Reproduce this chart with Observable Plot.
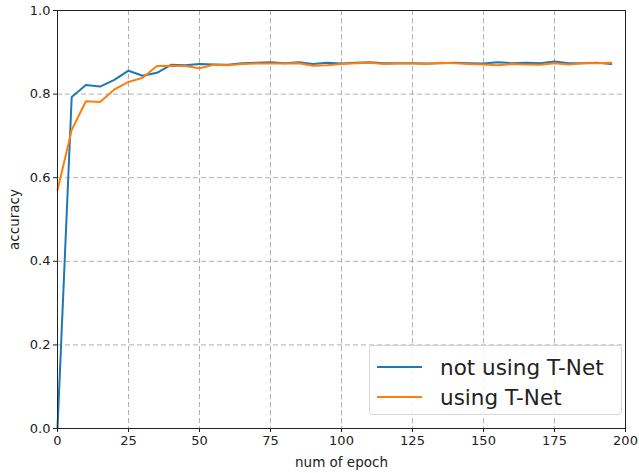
<!DOCTYPE html>
<html><head><meta charset="utf-8">
<script src="https://cdn.jsdelivr.net/npm/d3@7"></script>
<script src="https://cdn.jsdelivr.net/npm/@observablehq/plot@0.6"></script>
<style>
body{margin:0;background:#fff;font-family:"DejaVu Sans",sans-serif;}
#wrap{position:relative;width:639px;height:473px;}
#legend{position:absolute;left:369px;top:345px;width:253px;height:70px;border:1px solid #d6d6d6;border-radius:4px;background:rgba(255,255,255,0.85);box-sizing:border-box;font-size:21.5px;color:#222;}
.li{position:absolute;left:7px;height:30px;display:flex;align-items:center;white-space:nowrap;}
.li span.sw{display:inline-block;width:45px;height:0;border-top:2px solid;margin-right:18px;}
</style></head>
<body><div id="wrap"></div>
<script>
const epochs = [0,5,10,15,20,25,30,35,40,45,50,55,60,65,70,75,80,85,90,95,100,105,110,115,120,125,130,135,140,145,150,155,160,165,170,175,180,185,190,195];
const notUsingTNet = [0.0,0.793,0.822,0.818,0.834,0.856,0.844,0.851,0.870,0.869,0.872,0.871,0.870,0.874,0.875,0.876,0.874,0.876,0.872,0.875,0.873,0.875,0.876,0.874,0.874,0.874,0.873,0.874,0.875,0.874,0.873,0.876,0.874,0.875,0.874,0.878,0.874,0.874,0.875,0.872];
const usingTNet = [0.57,0.714,0.783,0.781,0.811,0.829,0.839,0.867,0.868,0.867,0.862,0.870,0.869,0.872,0.873,0.873,0.873,0.874,0.868,0.869,0.872,0.874,0.875,0.872,0.873,0.873,0.872,0.875,0.874,0.872,0.871,0.869,0.872,0.871,0.870,0.874,0.871,0.874,0.874,0.875];
const seriesNames = ["not using T-Net","using T-Net"];
const seriesColors = ["#1f77b4","#ff7f0e"];
const xTicks = [0,25,50,75,100,125,150,175,200];
const yTicks = [0,0.2,0.4,0.6,0.8,1.0];

const data = [];
epochs.forEach((e,i)=>{
  data.push({epoch:e, acc:notUsingTNet[i], series:seriesNames[0]});
  data.push({epoch:e, acc:usingTNet[i], series:seriesNames[1]});
});

const chart = Plot.plot({
  width:639, height:473,
  marginLeft:57, marginRight:14, marginTop:10, marginBottom:45,
  style:{fontFamily:"DejaVu Sans", fontSize:"13px", color:"#222", background:"#fff"},
  x:{domain:[0,200]},
  y:{domain:[0,1]},
  color:{domain:seriesNames, range:seriesColors},
  marks:[
    Plot.gridX(xTicks,{stroke:"#b0b0b0", strokeOpacity:1, strokeDasharray:"5,3", strokeWidth:1}),
    Plot.gridY(yTicks,{stroke:"#b0b0b0", strokeOpacity:1, strokeDasharray:"5,3", strokeWidth:1}),
    Plot.line(data,{x:"epoch", y:"acc", stroke:"series", strokeWidth:2}),
    Plot.frame({stroke:"#222", strokeWidth:1}),
    Plot.axisX(xTicks,{tickSize:4, tickPadding:3, label:null, fontSize:13}),
    Plot.axisX({label:"num of epoch", labelAnchor:"center", labelArrow:"none", labelOffset:38, ticks:[], fontSize:13.5}),
    Plot.axisY(yTicks,{tickSize:4, tickPadding:3, tickFormat:d3.format(".1f"), label:null, fontSize:13}),
    Plot.axisY({label:"accuracy", labelAnchor:"center", labelArrow:"none", labelOffset:48, ticks:[], fontSize:13.5})
  ]
});
const wrap = document.getElementById("wrap");
wrap.appendChild(chart);
const lg = document.createElement("div");
lg.id="legend";
seriesNames.forEach((n,i)=>{
  const r=document.createElement("div");r.className="li";r.style.top=(6+i*30)+"px";
  r.innerHTML=`<span class="sw" style="border-color:${seriesColors[i]}"></span>${n}`;
  lg.appendChild(r);
});
wrap.appendChild(lg);
</script></body></html>
